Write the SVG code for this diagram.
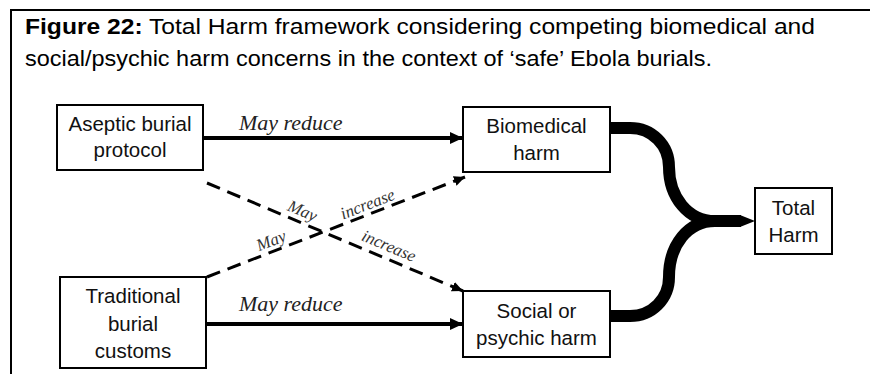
<svg xmlns="http://www.w3.org/2000/svg" width="870" height="374" viewBox="0 0 870 374">
<style>
.box{fill:#fff;stroke:#000;stroke-width:2}
.nt{font-family:"Liberation Sans",Arial,sans-serif;font-size:20.5px;fill:#111;text-anchor:middle}
.title{font-family:"Liberation Sans",Arial,sans-serif;font-size:22px;fill:#000}
.lbl{font-family:"Liberation Serif","Times New Roman",serif;font-style:italic;font-size:22px;fill:#222}
.dl{font-family:"Liberation Serif","Times New Roman",serif;font-style:italic;font-size:17px;fill:#333;text-anchor:middle}
.solid{stroke:#000;stroke-width:4;fill:none}
.dash{stroke:#000;stroke-width:3;fill:none;stroke-dasharray:14 8}
.band{stroke:#000;stroke-width:12;fill:none;stroke-linejoin:round}
</style>
<defs>
<marker id="ah" markerUnits="userSpaceOnUse" markerWidth="14" markerHeight="14" refX="13" refY="6" orient="auto">
<path d="M0,0 L13,6 L0,12 Z" fill="#000"/>
</marker>
<marker id="ahs" markerUnits="userSpaceOnUse" markerWidth="12" markerHeight="12" refX="11" refY="5" orient="auto">
<path d="M0,0 L11,5 L0,10 Z" fill="#000"/>
</marker>
</defs>
<rect width="870" height="374" fill="#fff"/>
<path d="M11,374 V10 H870" fill="none" stroke="#000" stroke-width="2"/>
<text class="title" x="25" y="34" textLength="790" lengthAdjust="spacingAndGlyphs"><tspan font-weight="bold">Figure 22:</tspan>  Total Harm framework considering competing biomedical and</text>
<text class="title" x="25" y="66" textLength="687" lengthAdjust="spacingAndGlyphs">social/psychic harm concerns in the context of ‘safe’ Ebola burials.</text>

<g id="connectors">
<path class="solid" d="M203,138 H463" marker-end="url(#ah)"/>
<path class="solid" d="M206,324 H463" marker-end="url(#ah)"/>
<path class="dash" d="M207,183 L463,291" marker-end="url(#ahs)"/>
<path class="dash" d="M207,277 L465,177" marker-end="url(#ahs)"/>
<path class="band" d="M610,128 H630 C652,128 669,145 669,167 C669,197 688,221 715,221 H741"/>
<path class="band" d="M610,316 H630 C652,316 669,299 669,277 C669,245 688,221 715,221"/>
<path d="M740,215 L755,221 L740,227 Z" fill="#000"/>
<text class="lbl" x="239" y="130">May reduce</text>
<text class="lbl" x="239" y="311">May reduce</text>
<g transform="translate(298,221.5) rotate(22.9)"><text class="dl" x="0" y="-6">May</text></g>
<g transform="translate(384,257.5) rotate(22.9)"><text class="dl" x="0" y="-7">increase</text></g>
<g transform="translate(275,250.5) rotate(-21.3)"><text class="dl" x="0" y="-5">May</text></g>
<g transform="translate(371,213) rotate(-21.3)"><text class="dl" x="0" y="-4">increase</text></g>
</g>

<g id="aseptic">
<rect class="box" x="57" y="105" width="146" height="65"/>
<text class="nt" x="130" y="131">Aseptic burial</text>
<text class="nt" x="130" y="157">protocol</text>
</g>
<g id="traditional">
<rect class="box" x="60" y="277" width="146" height="91"/>
<text class="nt" x="133" y="303">Traditional</text>
<text class="nt" x="133" y="331">burial</text>
<text class="nt" x="133" y="358">customs</text>
</g>
<g id="biomedical">
<rect class="box" x="463" y="107" width="147" height="65"/>
<text class="nt" x="536.5" y="133">Biomedical</text>
<text class="nt" x="536.5" y="160">harm</text>
</g>
<g id="social">
<rect class="box" x="463" y="291" width="147" height="66"/>
<text class="nt" x="536.5" y="318">Social or</text>
<text class="nt" x="536.5" y="345">psychic harm</text>
</g>
<g id="total">
<rect class="box" x="755" y="188" width="77" height="66"/>
<text class="nt" x="793.5" y="215">Total</text>
<text class="nt" x="793.5" y="242">Harm</text>
</g>
</svg>
